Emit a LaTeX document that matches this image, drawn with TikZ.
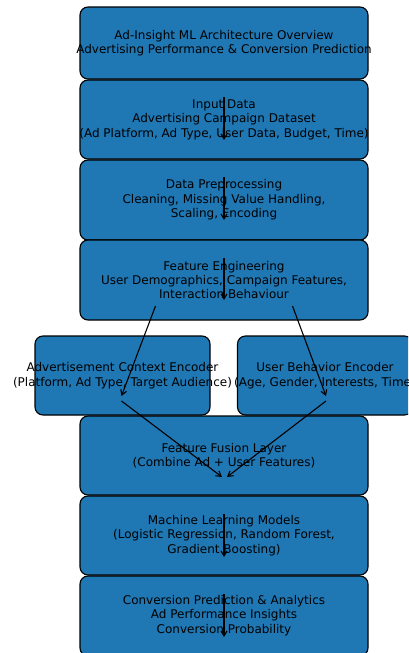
\documentclass[tikz,border=0pt]{standalone}
\usepackage{fontspec}
\setmainfont{DejaVu Sans}
\usetikzlibrary{arrows.meta}
\definecolor{boxblue}{HTML}{1F77B4}
\tikzset{
  box/.style={draw=black, line width=1.1pt, fill=boxblue, rounded corners=8pt, inner sep=0pt, minimum width=288pt},
  txt/.style={align=center, inner sep=0pt, font=\fontsize{12}{14.4}\selectfont, text=black},
  flow/.style={-{Straight Barb[length=5pt,width=6pt]}, line width=1.1pt, black}
}
\begin{document}
\begin{tikzpicture}[x=1pt,y=-1pt]
\clip (0,0) rectangle (408,653);
\node[box, minimum height=72pt] (b1) at (224,43) {};
\node[txt] (t1) at (224,43) {Ad-Insight ML Architecture Overview\\Advertising Performance \& Conversion Prediction};
\node[box, minimum height=79pt] (b2) at (224,119.5) {};
\node[txt] (t2) at (224,119.5) {Input Data\\Advertising Campaign Dataset\\(Ad Platform, Ad Type, User Data, Budget, Time)};
\node[box, minimum height=80pt] (b3) at (224,200) {};
\node[txt] (t3) at (224,200) {Data Preprocessing\\Cleaning, Missing Value Handling,\\Scaling, Encoding};
\node[box, minimum height=80pt] (b4) at (224,280) {};
\node[txt] (t4) at (224,280) {Feature Engineering\\User Demographics, Campaign Features,\\Interaction Behaviour};
\node[box, minimum height=79pt, minimum width=175pt] (e1) at (122.5,375.5) {};
\node[txt] (te1) at (122.5,375.5) {Advertisement Context Encoder\\(Platform, Ad Type, Target Audience)};
\node[box, minimum height=79pt, minimum width=175pt] (e2) at (325,375.5) {};
\node[txt] (te2) at (325,375.5) {User Behavior Encoder\\(Age, Gender, Interests, Time)};
\node[box, minimum height=79pt] (b5) at (224,455.5) {};
\node[txt] (t5) at (224,455.5) {Feature Fusion Layer\\(Combine Ad + User Features)};
\node[box, minimum height=79pt] (b6) at (224,535.5) {};
\node[txt] (t6) at (224,535.5) {Machine Learning Models\\(Logistic Regression, Random Forest,\\Gradient Boosting)};
\node[box, minimum height=80pt] (b7) at (224,616) {};
\node[txt] (t7) at (224,615.5) {Conversion Prediction \& Analytics\\Ad Performance Insights\\Conversion Probability};
% arrow end points
\coordinate (a2s) at (224,97);  \coordinate (a2e) at (224,140);
\coordinate (a3s) at (224,177); \coordinate (a3e) at (224,220);
\coordinate (a4s) at (224,258); \coordinate (a4e) at (224,300);
\coordinate (a6s) at (224,514); \coordinate (a6e) at (224,557);
\coordinate (a7s) at (224,594); \coordinate (a7e) at (224,637);
\coordinate (fl) at (155.5,306); \coordinate (fr) at (292.5,306);
\coordinate (el) at (121.5,396); \coordinate (er) at (326,396);
\coordinate (els) at (121.5,401); \coordinate (ers) at (326,401);
\coordinate (ul) at (222,477); \coordinate (ur) at (227,477);
\draw[flow] (a2s) -- (a2e);
\draw[flow] (a3s) -- (a3e);
\draw[flow] (a4s) -- (a4e);
\draw[flow] (a6s) -- (a6e);
\draw[flow] (a7s) -- (a7e);
\draw[flow] (fl) -- (el);
\draw[flow] (fr) -- (er);
\draw[flow] (els) -- (ul);
\draw[flow] (ers) -- (ur);
\end{tikzpicture}
\end{document}
